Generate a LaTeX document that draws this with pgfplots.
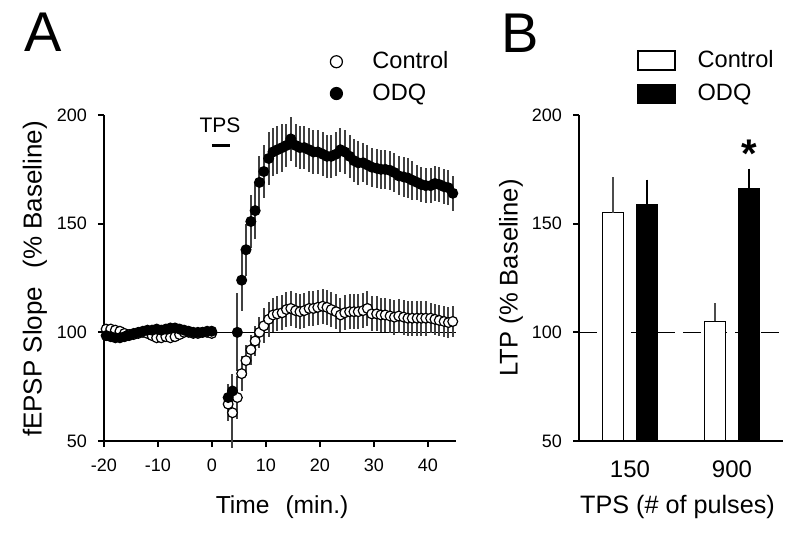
\documentclass[border=0pt]{standalone}
\usepackage{pgfplots}
\pgfplotsset{compat=1.18}
\usepackage{fontspec}
\setmainfont{Liberation Sans}

\pgfplotsset{
  boxlegend/.style={legend image code/.code={\draw[##1, line width=0.6pt] (0pt,-4.75pt) rectangle (18.5pt,4.75pt);}},
}

\pgfplotstableread{
x y e
-19.60 101.5 2
-18.75 101.5 2
-17.90 101 2
-17.05 100.5 2
-16.20 99.5 2
-15.35 99 2
-14.50 99 2
-13.65 99.5 2
-12.80 100 2
-11.95 99.5 2
-11.10 98.5 2
-10.25 97.5 2
-9.40 97.5 2
-8.55 98 2
-7.70 97.5 2
-6.85 98 2
-6.00 99 2
-5.15 100 2
-4.30 100 2
-3.45 99.5 2
-2.60 99.5 2
-1.75 100 2
-0.90 100 2
-0.05 99.5 2
3.0 67 8
3.8 63 16
4.7 70 10
5.5 81 8
6.3 87 7
7.2 92 7
8.0 96 7
8.8 100 7
9.6 103 8
10.5 106 8
11.3 108 8
12.1 108.5 8
13.0 109 8
13.8 110.5 8
14.6 111 8
15.5 110 8
16.3 109.5 8
17.1 110 8
18.0 111 8
18.8 111 8
19.6 111.5 8
20.5 112 8
21.3 111.5 8
22.1 110.5 8
23.0 109.5 8
23.8 108 8
24.6 109 8
25.5 109.5 8
26.3 109.5 8
27.1 109.5 8
28.0 110 8
28.8 111 8
29.6 108.5 8
30.5 108.5 8
31.3 108 8
32.1 108 8
33.0 107.5 8
33.8 107 8
34.6 107.5 8
35.5 107 8
36.3 106.5 8
37.1 106.5 8
38.0 106.5 8
38.8 106.5 8
39.6 106.5 8
40.5 106.5 7
41.3 106 7
42.1 105.5 7
43.0 105 7
43.8 104.5 7
44.6 105 7
}\controldata

\pgfplotstableread{
x y e
-19.60 98.5 2
-18.75 98 2
-17.90 97.5 2
-17.05 97.5 2
-16.20 98 2
-15.35 98.5 2
-14.50 99.5 2
-13.65 100 2
-12.80 100.5 2
-11.95 101 2
-11.10 101 2
-10.25 101.5 2
-9.40 101 2
-8.55 101.5 2
-7.70 102 2
-6.85 102 2
-6.00 101.5 2
-5.15 101 2
-4.30 100.5 2
-3.45 100 2
-2.60 100 2
-1.75 100 2
-0.90 100.5 2
-0.05 100.5 2
3.0 70 6
3.8 73 8
4.7 100 18
5.5 124 14
6.3 138 12
7.2 151 12
8.0 156 13
8.8 169 12
9.6 174 12
10.5 180 12
11.3 183 11
12.1 184 11
13.0 185 11
13.8 186 10
14.6 189 10
15.5 186 10
16.3 185 10
17.1 185 10
18.0 184 10
18.8 183 10
19.6 183 10
20.5 182 10
21.3 181 10
22.1 181 10
23.0 182 10
23.8 184 10
24.6 183 10
25.5 181 10
26.3 179 10
27.1 178 10
28.0 178 9
28.8 177 9
29.6 176 9
30.5 175.5 9
31.3 175 9
32.1 175 9
33.0 174.5 9
33.8 173.5 9
34.6 172 9
35.5 171.5 9
36.3 171 9
37.1 170 9
38.0 169 8
38.8 168 8
39.6 167.5 8
40.5 167.5 8
41.3 168.5 8
42.1 168 8
43.0 167 8
43.8 166.5 8
44.6 164 8
}\odqdata

\begin{document}
\begin{tikzpicture}
\path[use as bounding box] (0,0) rectangle (400pt,269pt);
\pgfplotsset{
  every axis/.append style={
    scale only axis,
    axis lines=left,
    axis line style={-, line width=0.9pt},
    tick align=outside,
    major tick length=3pt,
    tick style={black, line width=0.9pt},
    /pgf/number format/assume math mode=true,
    tick label style={font=\fontsize{9}{10}\selectfont},
    yticklabel style={xshift=-2pt},
    xticklabel style={yshift=-2.5pt},
    label style={font=\fontsize{12.6}{14}\selectfont},
    clip=false,
  }
}

\node[font=\fontsize{28}{30}\selectfont] at (21.5pt,253pt) {A};
\node[font=\fontsize{28}{30}\selectfont] at (260pt,252.5pt) {B};

% Panel A
\begin{axis}[
  at={(52pt,48.5pt)}, anchor=south west,
  width=176pt, height=163pt,
  xmin=-20, xmax=45.2, ymin=50, ymax=200,
  xtick={-20,-10,0,10,20,30,40}, ytick={50,100,150,200},
  xlabel={Time\hspace{0.65em}(min.)}, ylabel={fEPSP Slope\hspace{0.7em}(\% Baseline)},
  xlabel style={font=\fontsize{12.3}{14}\selectfont, at={(axis description cs:0.506,-0.2025)}, anchor=center},
  ylabel style={font=\fontsize{13}{14}\selectfont, at={(axis description cs:-0.196,0.497)}, anchor=center},
  legend style={draw=none, fill=none, at={(axis description cs:0.625,1.22)}, anchor=north west,
    font=\fontsize{11.8}{14}\selectfont, row sep=2pt,
    /tikz/every odd column/.append style={column sep=13pt}},
  legend cell align=left,
  every legend image post/.style={mark size=3pt},
]
\addplot[black, line width=0.8pt, forget plot] coordinates {(-20,100) (45.2,100)};
\addplot[only marks, mark=*, mark size=2.45pt, mark options={fill=white, draw=black, line width=0.6pt},
  error bars/.cd, y dir=both, y explicit, error mark=none,
  error bar style={black!75, line width=1pt}]
  table[x=x, y=y, y error=e] {\controldata};
\addlegendentry{Control}
\addplot[only marks, mark=*, mark size=2.45pt, mark options={fill=black, draw=black, line width=0.6pt},
  error bars/.cd, y dir=both, y explicit, error mark=none,
  error bar style={black!75, line width=1pt}]
  table[x=x, y=y, y error=e] {\odqdata};
\addlegendentry{ODQ}
\addplot[black, line width=1.5pt, forget plot] coordinates {(0,186) (3.4,186)};
\node[font=\fontsize{10.5}{12}\selectfont] at (axis cs:1.5,195.2) {TPS};
\end{axis}

% Panel B
\begin{axis}[
  at={(289.5pt,48.5pt)}, anchor=south west,
  width=102pt, height=163pt,
  xmin=0.5, xmax=2.5, ymin=50, ymax=200,
  xtick={1,2}, xticklabels={150,900},
  x tick label style={font=\fontsize{12}{14}\selectfont, yshift=-1pt},
  x tick style={draw=none},
  ytick={50,100,150,200},
  xlabel={TPS (\# of pulses)}, ylabel={LTP (\% Baseline)},
  xlabel style={at={(axis description cs:0.483,-0.2015)}, anchor=center},
  ylabel style={font=\fontsize{12.8}{14}\selectfont, at={(axis description cs:-0.333,0.5)}, anchor=center},
  legend style={draw=none, fill=none, at={(axis description cs:0.255,1.224)}, anchor=north west,
    font=\fontsize{11.8}{14}\selectfont, row sep=3pt,
    /tikz/every odd column/.append style={column sep=9pt}},
  legend cell align=left,
]
\addplot[black, line width=0.7pt, dash pattern=on 9pt off 4pt, forget plot] coordinates {(0.5,100) (2.5,100)};
\addplot[ybar, bar width=0.2, bar shift=0pt, fill=white, draw=black, line width=0.6pt, boxlegend,
  error bars/.cd, y dir=plus, y explicit, error mark=-,
  error bar style={black!70, line width=0.8pt},
  error mark options={black!70, mark size=2.5pt, line width=0.8pt}]
  coordinates {(0.833,155) +- (0,14) (1.833,105) +- (0,6)};
\addlegendentry{Control}
\addplot[ybar, bar width=0.2, bar shift=0pt, fill=black, draw=black, line width=0.6pt, boxlegend,
  error bars/.cd, y dir=plus, y explicit, error mark=-,
  error bar style={black, line width=0.8pt},
  error mark options={black, mark size=2.5pt, line width=0.8pt}]
  coordinates {(1.167,159) +- (0,9) (2.167,166) +- (0,7)};
\addlegendentry{ODQ}
\node[font=\fontsize{20}{20}\selectfont\bfseries, anchor=north, inner sep=0pt] at (axis cs:2.167,188.5) {*};
\end{axis}
\end{tikzpicture}
\end{document}
